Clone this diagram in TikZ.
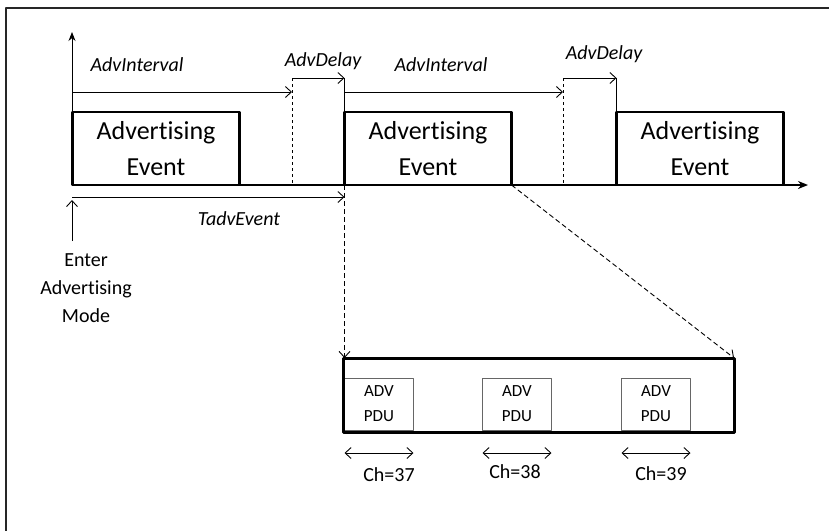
\documentclass[tikz,border=0pt]{standalone}
\usepackage{fontspec}
\setmainfont{Carlito}[Ligatures={NoCommon,NoContextual,NoRequired}]
\usetikzlibrary{arrows.meta}
\tikzset{
	evt/.style={draw,line width=2.2pt,outer sep=0pt,inner sep=0pt,minimum width=167pt,minimum height=73pt,align=center,font=\fontsize{26}{36}\selectfont},
	pdu/.style={draw=black!60,line width=0.9pt,outer sep=0pt,inner sep=0pt,minimum width=69pt,minimum height=52pt,align=center,font=\fontsize{17}{25}\selectfont},
	lbl/.style={anchor=base,font=\fontsize{20}{28}\selectfont\itshape},
}
\begin{document}
\begin{tikzpicture}[x=1pt,y=-1pt,line join=round,>={Straight Barb[length=6pt,width=11pt]},font=\fontsize{20}{28}\selectfont,line width=0.9pt]
	\useasboundingbox (0,0) rectangle (829,531);
	\draw[line width=2pt,black!85] (829,8)--(6,8)--(6,531);
	%time line
	\path 
	(72,185) coordinate (O)
	(808,185) coordinate (X)
	(72,32) coordinate (Y)
	(292,92) coordinate (D1)
	(292,78) coordinate (D1t)
	(563,92) coordinate (D2)
	(563,78) coordinate (D2t)
	(72,197) coordinate (T)
	(72,241) coordinate (E)
	(72,200) coordinate (Et)
	(0,453) coordinate (C)
	;
	\node[evt] (ev1) at (156,148.5) {Advertising\\Event};
	\node[evt] (ev2) at (428,148.5) {Advertising\\Event};
	\node[evt] (ev3) at (700,148.5) {Advertising\\Event};
	\draw[line width=1.6pt,-{Stealth[length=10pt,width=8pt]}] (O)--(X);
	\draw[-{Stealth[length=9pt,width=7pt]}] (O)--(Y);
	\draw[->] (Y|-D1)--(D1);
	\draw[dashed] (D1t)--(D1t|-O);
	\draw[->] (D1t)--(ev2.north west|-D1t);
	\draw (ev2.north west|-D1t)--(ev2.north west);
	\draw[->] (ev2.north west|-D2)--(D2);
	\draw[dashed] (D2t)--(D2t|-O);
	\draw[->] (D2t)--(ev3.north west|-D2t);
	\draw (ev3.north west|-D2t)--(ev3.north west);
	\draw[->] (T)--(T-|ev2.south west);
	\draw[->] (E)--(Et);
	\foreach \t/\x/\y in {AdvInterval/137/71.5,AdvDelay/323/66.7,AdvInterval/441/71.5,AdvDelay/604/59.3,TadvEvent/239/225}{
		\node[lbl] at (\x,\y) {\t};}
	\node[align=center] (enter) at (86,288.5) {Enter\\Advertising\\Mode};
	%advertising event
	\foreach \n/\x in {1/379,2/517,3/656}{
		\node[pdu] (pdu\n) at (\x,404) {ADV\\PDU};}
	\node[draw,line width=3pt,outer sep=0pt,minimum width=391pt,minimum height=74pt] (train) at (538.5,395) {};
	\draw[dash pattern=on 5pt off 3pt,->] (ev2.south west)--(ev2.south west|-train.north);
	\draw[dash pattern=on 5pt off 3pt,->] (ev2.south east)--(train.north east);
	\foreach \n/\x/\y in {1/389/481,2/515/478,3/661/480}{
		\draw[<->] (pdu\n.west|-C)--(pdu\n.east|-C);
		\node[anchor=base] (ch\n) at (\x,\y) {Ch=3\the\numexpr 6+\n\relax};}
\end{tikzpicture}
\end{document}
